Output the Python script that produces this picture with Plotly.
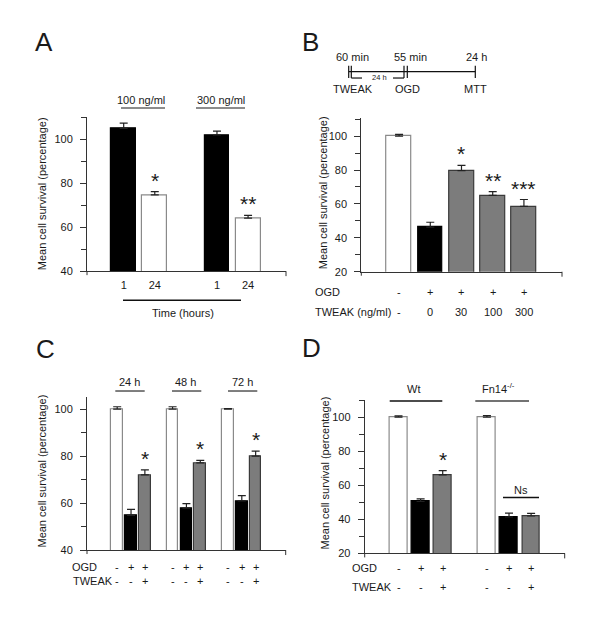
import plotly.graph_objects as go

PAD = 0
W, H = 600 - 2 * PAD, 629 - 2 * PAD
FONT = "Liberation Sans, Arial, sans-serif"
TXT = "#1a1a1a"
AX = "#333333"
GRAY = "#7c7c7c"

def X(px):
    return (px - PAD) / W

def Y(py):
    return 1 - (py - PAD) / H

# ---------------- data ----------------
# Panel A
a_ticks = ["1", "24", "1", "24"]
a_groups = ["100 ng/ml", "300 ng/ml"]
a_values = [105.0, 74.7, 102.0, 64.2]
a_errors = [2.4, 1.5, 1.8, 1.2]
a_kind = ["black", "white", "black", "white"]
a_stars = ["", "*", "", "**"]

# Panel B
b_ogd = ["-", "+", "+", "+", "+"]
b_tweak = ["-", "0", "30", "100", "300"]
b_values = [100.0, 46.3, 79.6, 65.0, 58.5]
b_errors = [1.0, 2.9, 3.1, 2.3, 4.1]
b_kind = ["white", "black", "gray", "gray", "gray"]
b_stars = ["", "", "*", "**", "***"]

# Panel C
c_groups = ["24 h", "48 h", "72 h"]
c_ogd = ["-", "+", "+"] * 3
c_tweak = ["-", "-", "+"] * 3
c_values = [100.0, 54.8, 72.0, 100.0, 57.8, 77.1, 100.0, 60.9, 80.0]
c_errors = [1.0, 2.5, 2.1, 1.0, 2.0, 1.1, 0.2, 2.3, 2.1]
c_kind = ["white", "black", "gray"] * 3
c_stars = ["", "", "*"] * 3

# Panel D
d_groups = ["Wt", "Fn14<sup>-/-</sup>"]
d_ogd = ["-", "+", "+", "-", "+", "+"]
d_tweak = ["-", "-", "+", "-", "-", "+"]
d_values = [100.0, 50.5, 66.2, 100.0, 41.4, 42.0]
d_errors = [0.8, 1.5, 2.4, 1.0, 2.3, 1.5]
d_kind = ["white", "black", "gray", "white", "black", "gray"]
d_stars = ["", "", "*", "", "", ""]


def positions(n_groups, per_group, gap):
    pos = []
    for g in range(n_groups):
        for i in range(per_group):
            pos.append(g * (per_group + gap) + i + 1)
    return pos

a_pos = positions(2, 2, 1)
b_pos = positions(1, 5, 0)
c_pos = positions(3, 3, 1)
d_pos = positions(2, 3, 1)

STYLE = {
    "white": dict(fill="white", line="#8a8a8a"),
    "black": dict(fill="black", line="black"),
    "gray": dict(fill=GRAY, line="#3a3a3a"),
}

fig = go.Figure()

def add_bars(sfx, pos, vals, errs, kinds, width):
    for k in ["white", "black", "gray"]:
        idx = [i for i, kk in enumerate(kinds) if kk == k]
        if not idx:
            continue
        fig.add_trace(go.Bar(
            x=[pos[i] for i in idx],
            y=[vals[i] for i in idx],
            width=width,
            marker=dict(color=STYLE[k]["fill"], line=dict(color=STYLE[k]["line"], width=1.2)),
            error_y=dict(type="data", symmetric=False,
                         array=[errs[i] for i in idx],
                         arrayminus=[0] * len(idx),
                         color="#222222", thickness=1.2, width=4),
            xaxis="x" + sfx, yaxis="y" + sfx,
            showlegend=False, hoverinfo="skip",
        ))

add_bars("", a_pos, a_values, a_errors, a_kind, 0.8)
add_bars("2", b_pos, b_values, b_errors, b_kind, 0.8)
add_bars("3", c_pos, c_values, c_errors, c_kind, 0.84)
add_bars("4", d_pos, d_values, d_errors, d_kind, 0.8)

annotations = []
shapes = []

def ann(text, px, py, size=11, xanchor="center", angle=0):
    annotations.append(dict(text=text, x=X(px), y=Y(py), xref="paper", yref="paper",
                            showarrow=False, xanchor=xanchor, yanchor="middle",
                            textangle=angle, font=dict(size=size, family=FONT, color=TXT)))

def ann_x(text, xref, xv, py, size=11):
    annotations.append(dict(text=text, x=xv, y=Y(py), xref=xref, yref="paper",
                            showarrow=False, xanchor="center", yanchor="middle",
                            font=dict(size=size, family=FONT, color=TXT)))

def stars(sfx, pos, vals, errs, marks, shift):
    for p, v, e, m in zip(pos, vals, errs, marks):
        if m:
            annotations.append(dict(text=m, x=p, y=v + e, xref="x" + sfx, yref="y" + sfx,
                                    showarrow=False, xanchor="center", yanchor="bottom",
                                    yshift=shift,
                                    font=dict(size=21, family=FONT, color=TXT)))

def line(x0, y0, x1, y1, color="#111111", w=1.2):
    shapes.append(dict(type="line", xref="paper", yref="paper",
                       x0=X(x0), y0=Y(y0), x1=X(x1), y1=Y(y1),
                       line=dict(color=color, width=w)))

# panel letters
ann("A", 36, 34, size=26)
ann("B", 302, 34, size=26)
ann("C", 37, 344, size=26)
ann("D", 303, 343, size=26)

# y titles
YT = "Mean cell survival (percentage)"
ann(YT, 34, 188, angle=-90)
ann(YT, 315, 187, angle=-90)
ann(YT, 34, 468, angle=-90)
ann(YT, 317, 470, angle=-90)

# Panel A decorations
ann(a_groups[0], 133, 93)
ann(a_groups[1], 213, 93)
line(113, 101, 157, 101, color="#666666", w=1.5)
line(188, 101, 237, 101, color="#666666", w=1.5)
line(115, 295, 233, 295, color="#111111", w=1.5)
ann("Time (hours)", 175, 308)
stars("", a_pos, a_values, a_errors, a_stars, -2)

# Panel B timeline
ann("60 min", 344, 49)
ann("55 min", 402, 49)
ann("24 h", 468, 49)
line(340.7, 64.3, 467.3, 64.3)
for xv in [340.7, 343.3, 396, 399.3, 467.3]:
    line(xv, 58.3, xv, 70.7)
line(343.3, 70.7, 354, 70.7)
line(385, 70.7, 396, 70.7)
ann("24 h", 371.5, 70.5, size=7.5)
ann("TWEAK", 345, 82)
ann("OGD", 399, 82)
ann("MTT", 467.3, 82)

# Panel B rows
ann("OGD", 305, 287, xanchor="left")
ann("TWEAK (ng/ml)", 305, 307, xanchor="left")
for p, s1, s2 in zip(b_pos, b_ogd, b_tweak):
    ann_x(s1, "x2", p, 287)
    ann_x(s2, "x2", p, 307)
stars("2", b_pos, b_values, b_errors, b_stars, -2)

# Panel C decorations
for g, cx, x0, x1 in zip(c_groups, [121.7, 177.7, 234.3], [107.3, 164, 220], [136.7, 193.3, 249.3]):
    ann(g, cx, 378)
    line(x0, 386.7, x1, 386.7, color="#555555", w=1.5)
ann("OGD", 61.5, 564, xanchor="left")
ann("TWEAK", 62.5, 579, xanchor="left")
for p, s1, s2 in zip(c_pos, c_ogd, c_tweak):
    ann_x(s1, "x3", p, 564)
    ann_x(s2, "x3", p, 579)
stars("3", c_pos, c_values, c_errors, c_stars, -2)

# Panel D decorations
ann(d_groups[0], 405, 385)
ann(d_groups[1], 490, 384)
line(381.7, 396.7, 434.3, 396.7, w=1.5)
line(467.3, 396.7, 521, 396.7, color="#444444", w=1.5)
ann("Ns", 512.5, 486.5)
line(495, 494.3, 531, 494.3, w=1.5)
ann("OGD", 341.7, 565, xanchor="left")
ann("TWEAK", 341.7, 585, xanchor="left")
for p, s1, s2 in zip(d_pos, d_ogd, d_tweak):
    ann_x(s1, "x4", p, 565)
    ann_x(s2, "x4", p, 585)
stars("4", d_pos, d_values, d_errors, d_stars, -2)

# corner extension ticks
for (xl, xr, yb) in [(79, 278, 265.7), (353.3, 554, 266.3), (79, 277.7, 547.3), (356.7, 556.7, 550.7)]:
    line(xr, yb, xr, yb + 5, color=AX, w=1)
    line(xl, yb, xl, yb + 4, color=AX, w=1)

def xaxis(dom, rng, tickvals=None, ticktext=None, anchor="y"):
    d = dict(domain=[X(dom[0]), X(dom[1])], range=rng, anchor=anchor,
             showline=True, linecolor=AX, linewidth=1, showgrid=False, zeroline=False,
             ticks="", fixedrange=True,
             tickfont=dict(size=11, family=FONT, color=TXT))
    if tickvals is not None:
        d.update(tickmode="array", tickvals=tickvals, ticktext=ticktext, ticklabelstandoff=4)
    else:
        d.update(showticklabels=False)
    return d

def yaxis(dom, rng, anchor):
    return dict(domain=[Y(dom[1]), Y(dom[0])], range=rng, anchor=anchor,
                showline=True, linecolor=AX, linewidth=1, showgrid=False, zeroline=False,
                tickmode="linear", tick0=0, dtick=20, ticks="outside", ticklen=6,
                tickcolor=AX, tickwidth=1, ticklabelstandoff=5,
                minor=dict(tickmode="linear", tick0=0, dtick=10, ticks="outside",
                           ticklen=5, tickcolor=AX, tickwidth=1),
                tickfont=dict(size=11, family=FONT, color=TXT), fixedrange=True)

fig.update_layout(
    width=W, height=H,
    margin=dict(l=0, r=0, t=0, b=0),
    paper_bgcolor="white", plot_bgcolor="white",
    bargap=0,
    xaxis=xaxis((79, 278), [-0.18, 6.22], a_pos, a_ticks, "y"),
    yaxis=yaxis((110.5, 265.7), [40, 110], "x"),
    xaxis2=xaxis((353.3, 554), [-0.21, 6.22], anchor="y2"),
    yaxis2=yaxis((111, 266.3), [20, 110.7], "x2"),
    xaxis3=xaxis((79, 277.7), [-1.18, 13.17], anchor="y3"),
    yaxis3=yaxis((393.1, 547.3), [40, 105], "x3"),
    xaxis4=xaxis((356.7, 556.7), [-0.53, 8.52], anchor="y4"),
    yaxis4=yaxis((396, 550.7), [20, 110], "x4"),
    annotations=annotations,
    shapes=shapes,
    font=dict(family=FONT, color=TXT),
)

fig.write_html("out.html")
